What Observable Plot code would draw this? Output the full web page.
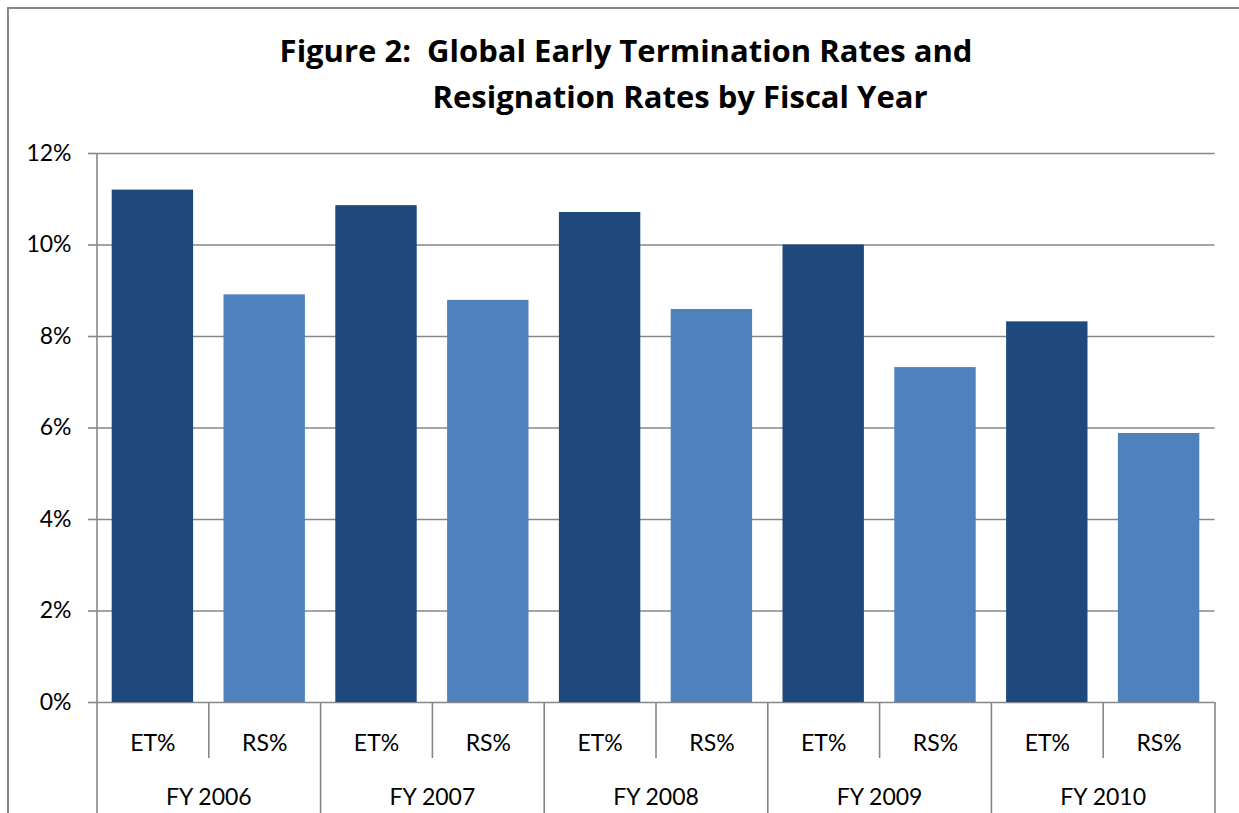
<!DOCTYPE html>
<html>
<head>
<meta charset="utf-8">
<script src="https://cdn.jsdelivr.net/npm/d3@7"></script>
<script src="https://cdn.jsdelivr.net/npm/@observablehq/plot@0.6"></script>
<style>
  html, body { margin: 0; padding: 0; background: #fff; }
  #page { position: relative; width: 1239px; height: 813px; overflow: hidden; font-family: Lato, "Open Sans", sans-serif; }
  #frame { position: absolute; left: 7px; top: 7px; width: 1300px; height: 900px; border-left: 2px solid #878787; border-top: 2px solid #878787; }
  .title { position: absolute; font-family: "Open Sans", Lato, sans-serif; font-weight: bold; font-size: 31px; line-height: 31px; white-space: nowrap; transform: translateX(-50%); color: #000; }
  #chart { position: absolute; left: 0; top: 130px; }
</style>
</head>
<body>
<div id="page">
  <div id="frame"></div>
  <div class="title" style="left:626px; top:35px;">Figure 2:&nbsp; Global Early Termination Rates and</div>
  <div class="title" style="left:680px; top:80.5px;">Resignation Rates by Fiscal Year</div>
  <div id="chart"></div>
</div>
<script>
// Fiscal years and the two rate series (percent)
const years = ["FY 2006", "FY 2007", "FY 2008", "FY 2009", "FY 2010"];
const metrics = ["ET%", "RS%"];
const etRates = [11.2, 10.86, 10.71, 10.0, 8.32];
const rsRates = [8.91, 8.79, 8.59, 7.32, 5.88];
const yTicks = [0, 2, 4, 6, 8, 10, 12];

// One row per bar; slot index places bars side by side, two per year
const rows = years.flatMap((fy, g) => [
  {fy, metric: metrics[0], value: etRates[g], slot: 2 * g},
  {fy, metric: metrics[1], value: rsRates[g], slot: 2 * g + 1}
]);
const yearEdges = d3.range(0, 2 * years.length + 1, 2);
const metricEdges = d3.range(1, 2 * years.length, 2);

const gray = "#878787";
const font = "Lato, 'Open Sans', sans-serif";

const chart = Plot.plot({
  width: 1239,
  height: 683,
  marginTop: 23,
  marginBottom: 111,
  marginLeft: 96.5,
  marginRight: 24.5,
  style: {background: "none", fontFamily: font, fontSize: "23px", color: "#000"},
  x: {type: "linear", domain: [0, 2 * years.length], axis: null},
  y: {domain: [0, 12], axis: null},
  color: {domain: metrics, range: ["#1F497D", "#4F81BD"]},
  marks: [
    Plot.ruleY(yTicks, {stroke: gray, strokeWidth: 1.6}),
    Plot.axisY(yTicks, {
      tickSize: 8.5, tickPadding: 17, stroke: gray, strokeWidth: 1.6,
      tickFormat: d => d + "%", label: null, fontSize: 23, fill: "#000"
    }),
    Plot.rectY(rows, {
      x1: "slot", x2: d => d.slot + 1, y: "value",
      fill: "metric", insetLeft: 15.2, insetRight: 15.2
    }),
    // value axis line
    Plot.ruleX([0], {stroke: gray, strokeWidth: 1.6}),
    // category separators below the baseline
    Plot.ruleX(yearEdges, {y: 0, insetBottom: -111, stroke: gray, strokeWidth: 1.6}),
    Plot.ruleX(metricEdges, {y: 0, insetBottom: -56, stroke: gray, strokeWidth: 1.6}),
    Plot.text(rows, {
      x: d => d.slot + 0.5, y: 0, text: "metric", dy: 41,
      lineAnchor: "middle", fontSize: 23, fill: "#000"
    }),
    Plot.text(years, {
      x: (d, g) => 2 * g + 1, y: 0, text: d => d, dy: 95,
      lineAnchor: "middle", fontSize: 23, fill: "#000"
    })
  ]
});
document.getElementById("chart").appendChild(chart);
</script>
</body>
</html>
